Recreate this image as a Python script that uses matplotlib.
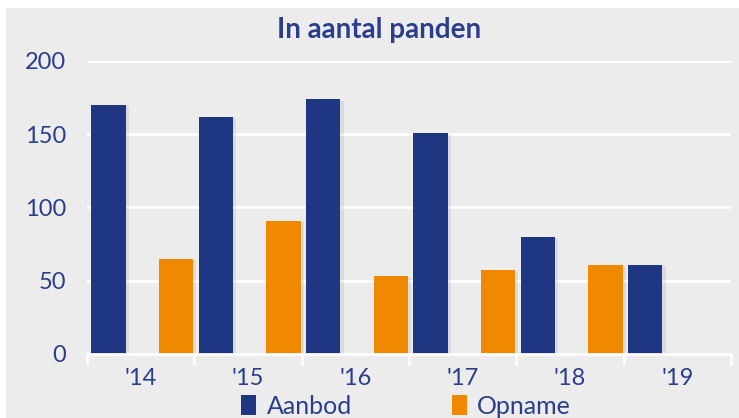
import numpy as np
import matplotlib
matplotlib.use("Agg")
import matplotlib.pyplot as plt
from matplotlib.patches import Rectangle

jaren = ["'14", "'15", "'16", "'17", "'18", "'19"]
aanbod = [170, 162, 174, 151, 80, 61]
opname = [65, 91, 53, 57, 61, 0]

navy = "#1f3783"
oranje = "#f08900"
achtergrond = "#ececec"
tekst = "#2b3d8c"

plt.rcParams["font.family"] = ["Lato", "DejaVu Sans"]

fig = plt.figure(figsize=(7.39, 4.18), dpi=100)
fig.patch.set_facecolor("white")
# grijs vlak van de grafiek
fig.patches.append(Rectangle((6 / 739, 0), 1, 1 - 8 / 418, transform=fig.transFigure,
                             facecolor=achtergrond, edgecolor="none", zorder=-10))

ax = fig.add_axes([87 / 739, 1 - 354 / 418, 644 / 739, 293 / 418])
ax.set_facecolor(achtergrond)

x = np.arange(len(jaren))
breedte = 0.32
# schaduw
ax.bar(x - 0.3 + 0.03, aanbod, breedte, bottom=-1, color="#000000", alpha=0.07, zorder=2)
ax.bar(x + 0.33 + 0.03, opname, breedte, bottom=-1, color="#000000", alpha=0.07, zorder=2)
ax.bar(x - 0.3, aanbod, breedte, color=navy, label="Aanbod", zorder=3)
ax.bar(x + 0.33, opname, breedte, color=oranje, label="Opname", zorder=3)

ax.set_xlim(-0.5, 5.5)
ax.set_ylim(0, 200)
ax.set_yticks([0, 50, 100, 150, 200])
ax.grid(axis="y", color="white", linewidth=2, zorder=1)
ax.set_axisbelow(True)

for s in ["top", "right", "left"]:
    ax.spines[s].set_visible(False)
ax.spines["bottom"].set_color("white")
ax.spines["bottom"].set_linewidth(2)
ax.spines["bottom"].set_zorder(4)

ax.set_xticks(np.arange(-0.5, 6, 1), minor=False)
ax.set_xticklabels([])
ax.set_xticks(x, minor=True)
ax.set_xticklabels(jaren, minor=True)
ax.tick_params(axis="x", which="major", length=8, width=2, color="white", direction="out")
ax.tick_params(axis="x", which="minor", length=0, pad=10, labelsize=17, labelcolor=tekst)
ax.tick_params(axis="y", length=0, pad=15, labelsize=17, labelcolor=tekst)

fig.text(379 / 739, 1 - 30 / 418, "In aantal panden", ha="center", va="center",
         fontsize=20, fontweight="bold", color=tekst)

fig.legend(loc="center", bbox_to_anchor=(406 / 739, 1 - 406 / 418), ncol=2, frameon=False,
           fontsize=18, labelcolor=tekst, handlelength=0.6, handleheight=0.9,
           handletextpad=0.4, columnspacing=4.0)

fig.savefig("out.png", dpi=100, facecolor=fig.get_facecolor())
